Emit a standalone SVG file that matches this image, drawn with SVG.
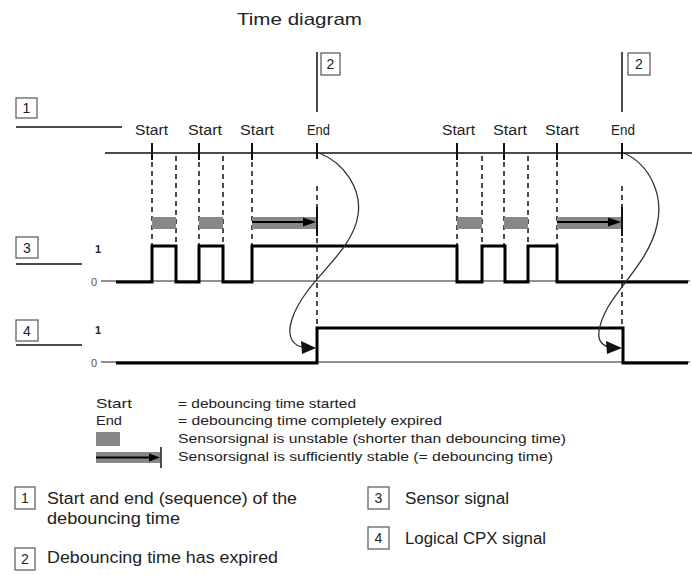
<svg xmlns="http://www.w3.org/2000/svg" width="692" height="575" viewBox="0 0 692 575">
<style>
text{font-family:"Liberation Sans",Arial,sans-serif;fill:#222}
.lbl{font-size:14px}
.lg{font-size:13px}
.bl{font-size:16px}
.num{font-size:14px;text-anchor:middle}
.lv{font-size:11px}
.box{fill:#fff;stroke:#555;stroke-width:1.2}
.ln{stroke:#111;stroke-width:1.5;fill:none}
.thin{stroke:#222;stroke-width:1;fill:none}
.sig{stroke:#000;stroke-width:3;fill:none;stroke-linejoin:miter}
.dash{stroke:#111;stroke-width:1.5;stroke-dasharray:5,4;fill:none}
.tick{stroke:#111;stroke-width:2}
.gbar{fill:#888}
.arr{stroke:#000;stroke-width:2}
.curve{stroke:#333;stroke-width:1.3;fill:none}
</style>
<text x="237" y="25" style="font-size:17px" textLength="125" lengthAdjust="spacingAndGlyphs">Time diagram</text>

<g id="ref1">
<rect class="box" x="16" y="98" width="21" height="20"/>
<text class="num" x="26.5" y="113">1</text>
<line class="ln" x1="16" y1="127" x2="122" y2="127"/>
</g>
<g id="ref2a">
<line class="ln" x1="317" y1="52" x2="317" y2="112"/>
<rect class="box" x="321" y="53" width="19" height="22"/>
<text class="num" x="330.5" y="69">2</text>
</g>
<g id="ref2b">
<line class="ln" x1="622" y1="52" x2="622" y2="112"/>
<rect class="box" x="628" y="53" width="22" height="22"/>
<text class="num" x="639" y="69">2</text>
</g>
<g id="ref3">
<rect class="box" x="16" y="237" width="22" height="21"/>
<text class="num" x="27" y="253">3</text>
<line class="ln" x1="16" y1="264" x2="82" y2="264"/>
<text class="lv" x="95" y="253" style="font-weight:bold">1</text>
<text class="lv" x="91" y="286" style="fill:#555">0</text>
</g>
<g id="ref4">
<rect class="box" x="16" y="320" width="22" height="21"/>
<text class="num" x="27" y="336">4</text>
<line class="ln" x1="16" y1="345" x2="82" y2="345"/>
<text class="lv" x="95" y="334" style="font-weight:bold">1</text>
<text class="lv" x="91" y="367" style="fill:#555">0</text>
</g>

<g id="labels">
<text class="lbl" x="135" y="135" textLength="33" lengthAdjust="spacingAndGlyphs">Start</text>
<text class="lbl" x="188" y="135" textLength="34" lengthAdjust="spacingAndGlyphs">Start</text>
<text class="lbl" x="240" y="135" textLength="34" lengthAdjust="spacingAndGlyphs">Start</text>
<text class="lbl" x="307" y="135" textLength="23" lengthAdjust="spacingAndGlyphs">End</text>
<text class="lbl" x="442" y="135" textLength="33" lengthAdjust="spacingAndGlyphs">Start</text>
<text class="lbl" x="493" y="135" textLength="34" lengthAdjust="spacingAndGlyphs">Start</text>
<text class="lbl" x="545" y="135" textLength="34" lengthAdjust="spacingAndGlyphs">Start</text>
<text class="lbl" x="611" y="135" textLength="24" lengthAdjust="spacingAndGlyphs">End</text>
</g>

<g id="axis">
<line class="ln" x1="105" y1="153" x2="692" y2="153"/>
<line class="tick" x1="152" y1="143" x2="152" y2="160"/>
<line class="tick" x1="199" y1="143" x2="199" y2="160"/>
<line class="tick" x1="252" y1="143" x2="252" y2="160"/>
<line class="tick" x1="317" y1="143" x2="317" y2="159"/>
<line class="tick" x1="457" y1="143" x2="457" y2="160"/>
<line class="tick" x1="504" y1="143" x2="504" y2="160"/>
<line class="tick" x1="557" y1="143" x2="557" y2="160"/>
<line class="tick" x1="622" y1="143" x2="622" y2="159"/>
</g>

<g id="connectors">
<line class="dash" x1="152" y1="162" x2="152" y2="246"/>
<line class="dash" x1="176" y1="156" x2="176" y2="246"/>
<line class="dash" x1="199" y1="162" x2="199" y2="246"/>
<line class="dash" x1="223" y1="156" x2="223" y2="246"/>
<line class="dash" x1="252" y1="162" x2="252" y2="246"/>
<line class="dash" x1="317" y1="186" x2="317" y2="207"/>
<line class="dash" x1="317" y1="238" x2="317" y2="328"/>
<line class="dash" x1="457" y1="162" x2="457" y2="246"/>
<line class="dash" x1="482" y1="156" x2="482" y2="246"/>
<line class="dash" x1="504" y1="162" x2="504" y2="246"/>
<line class="dash" x1="528" y1="156" x2="528" y2="246"/>
<line class="dash" x1="557" y1="162" x2="557" y2="246"/>
<line class="dash" x1="622" y1="186" x2="622" y2="207"/>
<line class="dash" x1="622" y1="238" x2="622" y2="328"/>

<rect class="gbar" x="152" y="217" width="24" height="12"/>
<rect class="gbar" x="199" y="217" width="24" height="12"/>
<rect class="gbar" x="252" y="217" width="65" height="12"/>
<line class="arr" x1="252" y1="222" x2="306" y2="222"/>
<polygon points="303,217.5 316,222 303,226.5" fill="#000"/>
<line class="tick" x1="317" y1="207" x2="317" y2="236"/>

<rect class="gbar" x="457" y="217" width="25" height="12"/>
<rect class="gbar" x="504" y="217" width="24" height="12"/>
<rect class="gbar" x="557" y="217" width="65" height="12"/>
<line class="arr" x1="557" y1="222" x2="611" y2="222"/>
<polygon points="608,217.5 621,222 608,226.5" fill="#000"/>
<line class="tick" x1="622" y1="207" x2="622" y2="236"/>

<line class="thin" x1="101" y1="281" x2="690" y2="281"/>
<path class="sig" d="M116,282 H152 V246 H176 V282 H199 V246 H223 V282 H252 V246 H457 V282 H482 V246 H505 V282 H528 V246 H557 V282 H688"/>
<line class="thin" x1="101" y1="362" x2="690" y2="362"/>
<path class="sig" d="M116,363 H317 V328 H623 V363 H688"/>

<path class="curve" d="M319,153 C345,163 362,190 358,215 C354,245 322,270 306,293 C293,311 286,330 292,340 C295,345 299,347 304,347"/>
<polygon points="301,341 316,348 302,354" fill="#111"/>
<path class="curve" d="M624,153 C650,165 664,195 657,225 C650,258 622,283 608,307 C598,325 597,338 601,342 C604,346 607,347 611,347"/>
<polygon points="606,341 622,348 607,354" fill="#111"/>
</g>

<g id="legend">
<text class="lg" x="96" y="408" textLength="36" lengthAdjust="spacingAndGlyphs">Start</text>
<text class="lg" x="96" y="425" textLength="26" lengthAdjust="spacingAndGlyphs">End</text>
<rect class="gbar" x="96" y="432" width="24" height="14"/>
<rect class="gbar" x="96" y="452" width="64" height="11"/>
<line class="arr" x1="96" y1="457.5" x2="152" y2="457.5"/>
<polygon points="149,453.5 160,457.5 149,461.5" fill="#000"/>
<line class="tick" x1="161" y1="447" x2="161" y2="468" style="stroke-width:1.5"/>
<text class="lg" x="178" y="408" textLength="178" lengthAdjust="spacingAndGlyphs">= debouncing time started</text>
<text class="lg" x="178" y="425" textLength="264" lengthAdjust="spacingAndGlyphs">= debouncing time completely expired</text>
<text class="lg" x="178" y="443" textLength="388" lengthAdjust="spacingAndGlyphs">Sensorsignal is unstable (shorter than debouncing time)</text>
<text class="lg" x="178" y="461" textLength="375" lengthAdjust="spacingAndGlyphs">Sensorsignal is sufficiently stable (= debouncing time)</text>
</g>

<g id="key1">
<rect class="box" x="15" y="487" width="20" height="22"/>
<text class="num" x="25" y="503">1</text>
<text class="bl" x="47" y="504" textLength="250" lengthAdjust="spacingAndGlyphs">Start and end (sequence) of the</text>
<text class="bl" x="47" y="524" textLength="133" lengthAdjust="spacingAndGlyphs">debouncing time</text>
</g>
<g id="key2">
<rect class="box" x="15" y="548" width="20" height="22"/>
<text class="num" x="25" y="564">2</text>
<text class="bl" x="47" y="563" textLength="231" lengthAdjust="spacingAndGlyphs">Debouncing time has expired</text>
</g>
<g id="key3">
<rect class="box" x="368" y="487" width="21" height="22"/>
<text class="num" x="378.5" y="503">3</text>
<text class="bl" x="405" y="504" textLength="104" lengthAdjust="spacingAndGlyphs">Sensor signal</text>
</g>
<g id="key4">
<rect class="box" x="368" y="527" width="21" height="22"/>
<text class="num" x="378.5" y="543">4</text>
<text class="bl" x="405" y="544" textLength="141" lengthAdjust="spacingAndGlyphs">Logical CPX signal</text>
</g>
</svg>
